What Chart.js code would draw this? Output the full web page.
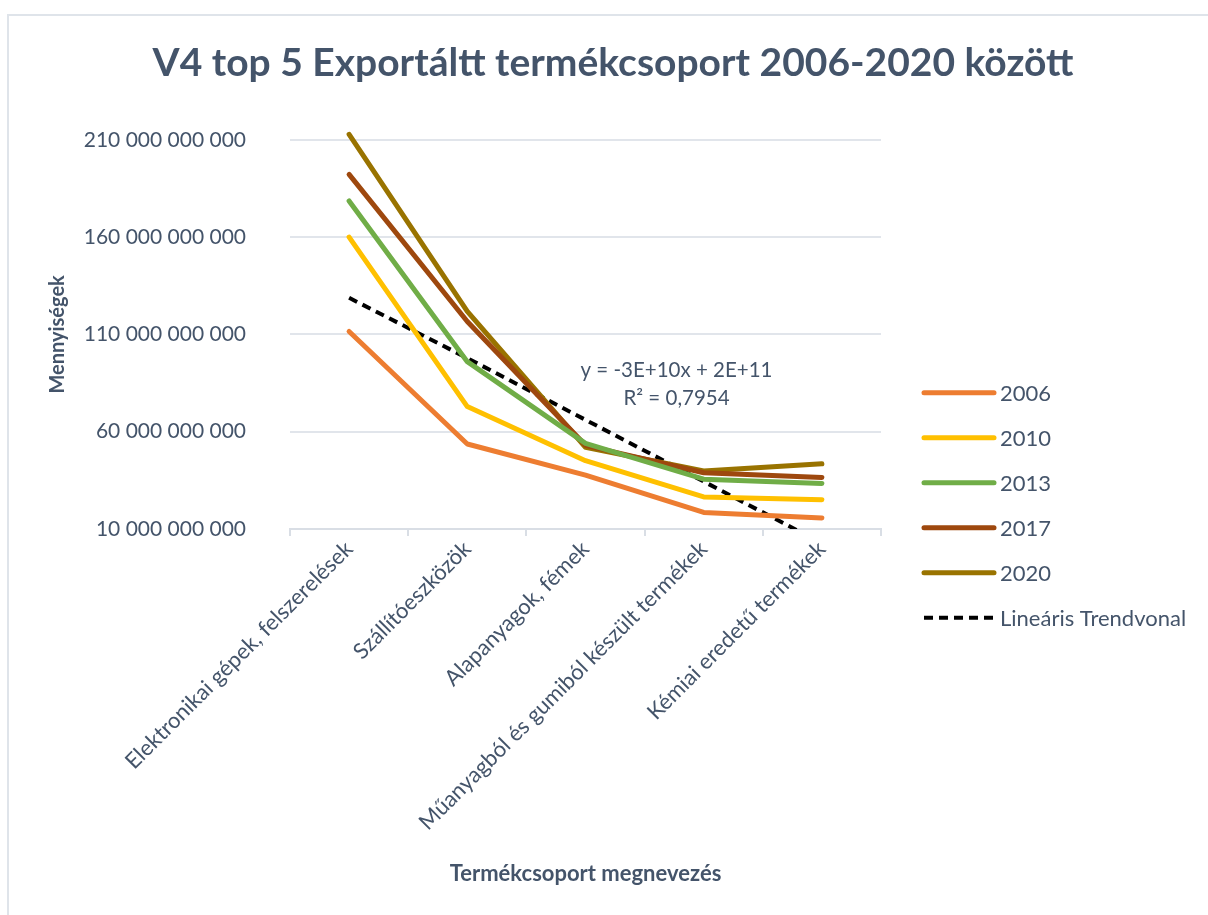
<!DOCTYPE html>
<html>
<head>
<meta charset="utf-8">
<script src="https://cdn.jsdelivr.net/npm/chart.js@4.4.1/dist/chart.umd.min.js"></script>
<style>
  html, body { margin: 0; padding: 0; background: #fff; overflow: hidden; }
  #frame { position: absolute; left: 7px; top: 14px; width: 1300px; height: 1000px; border: 2px solid #dfe4ea; }
  #wrap { position: absolute; left: 0; top: 0; width: 1208px; height: 915px; }
</style>
</head>
<body>
<div id="frame"></div>
<div id="wrap"><canvas id="exportChart" width="1208" height="915"></canvas></div>
<script>
const categories = [
    'Elektronikai gépek, felszerelések',
    'Szállítóeszközök',
    'Alapanyagok, fémek',
    'Műanyagból és gumiból készült termékek',
    'Kémiai eredetű termékek'
];

// values
const values2006 = [111.5e9, 53.7e9, 37.7e9, 18.5e9, 15.7e9];
const values2010 = [160.0e9, 72.9e9, 45.1e9, 26.5e9, 25.0e9];
const values2013 = [178.6e9, 96.0e9, 54.0e9, 35.6e9, 33.4e9];
const values2017 = [192.2e9, 116.6e9, 53.0e9, 38.9e9, 36.5e9];
const values2020 = [212.8e9, 121.8e9, 52.0e9, 39.8e9, 43.5e9];
const trendValues = [128.8e9, 97.8e9, 66.1e9, 34.4e9, 2.7e9];

const yTicks = { min: 10e9, max: 210e9, step: 50e9 };
const equationLines = ['y = -3E+10x + 2E+11', 'R² = 0,7954'];

const textColor = '#44546A';
const fontFamily = 'Lato, "Open Sans", sans-serif';
Chart.defaults.font.family = fontFamily;
Chart.defaults.color = textColor;

function spaced(v) {
    return String(Math.round(v)).replace(/\B(?=(\d{3})+(?!\d))/g, ' ');
}

function series(label, data, color) {
    return {
        label: label,
        data: data,
        borderColor: color,
        backgroundColor: color,
        borderWidth: 5,
        borderCapStyle: 'round',
        borderJoinStyle: 'round',
        pointRadius: 0,
        tension: 0,
        clip: false
    };
}

// equation text next to the trend line
const equationPlugin = {
    id: 'equation',
    afterDatasetsDraw(chart) {
        const ctx = chart.ctx;
        const x = chart.scales.x.getPixelForValue(2.77);
        const y = chart.scales.y.getPixelForValue(91.5e9);
        ctx.save();
        ctx.fillStyle = textColor;
        ctx.font = '20.5px ' + fontFamily;
        ctx.textAlign = 'center';
        ctx.textBaseline = 'middle';
        equationLines.forEach((t, i) => ctx.fillText(t, x, y + i * 28));
        ctx.restore();
    }
};

// legend column at the right, like the spreadsheet one
const sideLegend = {
    id: 'sideLegend',
    afterDraw(chart) {
        const ctx = chart.ctx;
        const area = chart.chartArea;
        const x0 = area.right + 43;
        ctx.save();
        chart.data.datasets.forEach((ds, i) => {
            const y = area.top + 253 + i * 45;
            ctx.beginPath();
            ctx.strokeStyle = ds.borderColor;
            ctx.lineWidth = ds.borderWidth;
            ctx.lineCap = ds.borderDash ? 'butt' : 'round';
            ctx.setLineDash(ds.borderDash || []);
            ctx.moveTo(x0, y);
            ctx.lineTo(x0 + 70, y);
            ctx.stroke();
            ctx.setLineDash([]);
            ctx.fillStyle = textColor;
            ctx.font = '22px ' + fontFamily;
            ctx.textAlign = 'left';
            ctx.textBaseline = 'middle';
            ctx.fillText(ds.label, x0 + 76, y + 1);
        });
        ctx.restore();
    }
};

const ctx = document.getElementById('exportChart').getContext('2d');

const exportChart = new Chart(ctx, {
    type: 'line',
    data: {
        labels: categories,
        datasets: [
            series('2006', values2006, '#ED7D31'),
            series('2010', values2010, '#FFC000'),
            series('2013', values2013, '#70AD47'),
            series('2017', values2017, '#9E480E'),
            series('2020', values2020, '#997300'),
            {
                label: 'Lineáris Trendvonal',
                data: trendValues,
                borderColor: '#000000',
                borderWidth: 4,
                borderDash: [9, 6],
                pointRadius: 0,
                tension: 0
            }
        ]
    },
    options: {
        responsive: false,
        animation: false,
        layout: {
            padding: { left: 18, right: 0, top: 0, bottom: 25 }
        },
        scales: {
            x: {
                offset: true,
                grid: {
                    offset: true,
                    drawOnChartArea: false,
                    drawTicks: true,
                    tickLength: 7,
                    color: '#d9dee5',
                    lineWidth: 2
                },
                border: { display: true, color: '#d9dee5', width: 2 },
                ticks: {
                    autoSkip: false,
                    minRotation: 45,
                    maxRotation: 45,
                    padding: 0,
                    color: textColor,
                    font: { size: 22 }
                },
                title: {
                    display: true,
                    text: 'Termékcsoport megnevezés',
                    color: textColor,
                    font: { size: 22, weight: 'bold' },
                    padding: { top: 0, bottom: 3 }
                },
                afterFit: function(scale) { scale.height = 361; }
            },
            y: {
                min: yTicks.min,
                max: yTicks.max,
                ticks: {
                    stepSize: yTicks.step,
                    padding: 44,
                    color: textColor,
                    font: { size: 21 },
                    callback: v => spaced(v)
                },
                grid: { color: '#e1e5eb', lineWidth: 2, drawTicks: false },
                border: { display: false },
                title: {
                    display: true,
                    text: 'Mennyiségek',
                    color: textColor,
                    font: { size: 20, weight: 'bold' },
                    padding: { top: 28, bottom: 0 }
                },
                afterFit: function(scale) { scale.width = 272; }
            },
            // empty box that keeps room for the legend column on the right
            side: {
                position: 'right',
                display: true,
                grid: { display: false },
                border: { display: false },
                ticks: { display: false },
                afterFit: function(scale) { scale.width = 327; }
            }
        },
        plugins: {
            legend: { display: false },
            tooltip: { enabled: false },
            title: {
                display: true,
                text: 'V4 top 5 Exportáltt termékcsoport 2006-2020 között',
                color: textColor,
                font: { size: 39, weight: 'bold' },
                padding: { top: 40, bottom: 53 }
            }
        }
    },
    plugins: [equationPlugin, sideLegend]
});
</script>
</body>
</html>
